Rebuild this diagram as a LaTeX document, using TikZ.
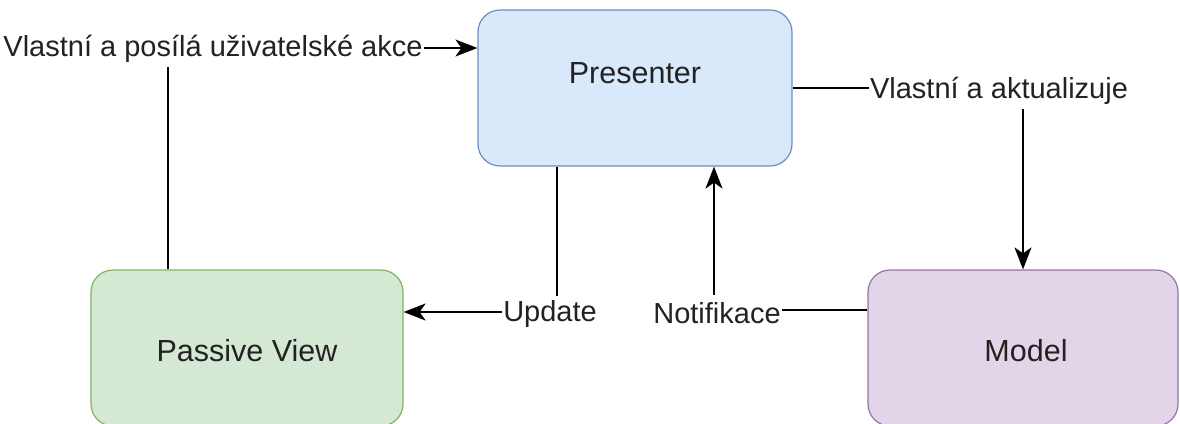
\documentclass[tikz,border=0pt]{standalone}
\usepackage{fontspec}
\setmainfont{Liberation Sans}
\usetikzlibrary{arrows.meta}
\definecolor{prfill}{HTML}{DAE8FC}\definecolor{prline}{HTML}{6C8EBF}
\definecolor{pvfill}{HTML}{D5E8D4}\definecolor{pvline}{HTML}{82B366}
\definecolor{mdfill}{HTML}{E1D5E7}\definecolor{mdline}{HTML}{9673A6}
\definecolor{txt}{HTML}{222222}
\tikzset{
  box/.style={draw, line width=1.2pt, rounded corners=22pt, minimum width=#1, minimum height=156pt,
              inner sep=0pt},
  boxtext/.style={text=txt, font=\fontsize{30.5}{36}\selectfont},
  arr/.style={line width=1.9pt, -{Stealth[length=22pt,width=17pt,inset=6pt]}},
  lbl/.style={fill=white, inner xsep=1pt, inner ysep=0pt, minimum height=36pt, text=txt,
              font=\fontsize{29}{34}\selectfont}
}
\begin{document}
\begin{tikzpicture}[x=1pt,y=-1pt]
  \useasboundingbox (0,0) rectangle (1180,423);
  \clip (0,0) rectangle (1180,423);
  \fill[white] (0,0) rectangle (1180,423);
  % components
  \node[box=314pt, fill=prfill, draw=prline] (pr) at (635,88) {};
  \node[box=312pt, fill=pvfill, draw=pvline] (pv) at (247,348) {};
  \node[box=310pt, fill=mdfill, draw=mdline] (md) at (1023,348) {};
  \node[boxtext] (prt) at ([yshift=15pt]pr.center) {Presenter};
  \node[boxtext] (pvt) at ([yshift=-3pt]pv.center) {Passive View};
  \node[boxtext] (mdt) at ([yshift=-3pt,xshift=3pt]md.center) {Model};
  % connectors
  \draw[arr] ([xshift=78pt]pv.north west) |- ([yshift=40pt]pr.west);
  \draw[arr] (pr.east) -| (md.north);
  \draw[arr] ([xshift=-78pt]pr.south) |- ([yshift=36pt]pv.east);
  \draw[arr] ([yshift=38pt]md.west) -| ([xshift=79pt]pr.south);
  % connector labels
  \node[lbl] (l1) at (213,49) {Vlastní a posílá uživatelské akce};
  \node[lbl] (l2) at (999,91) {Vlastní a aktualizuje};
  \node[lbl] (l3) at (550,314) {Update};
  \node[lbl] (l4) at (717,313) {Notifikace};
\end{tikzpicture}
\end{document}
